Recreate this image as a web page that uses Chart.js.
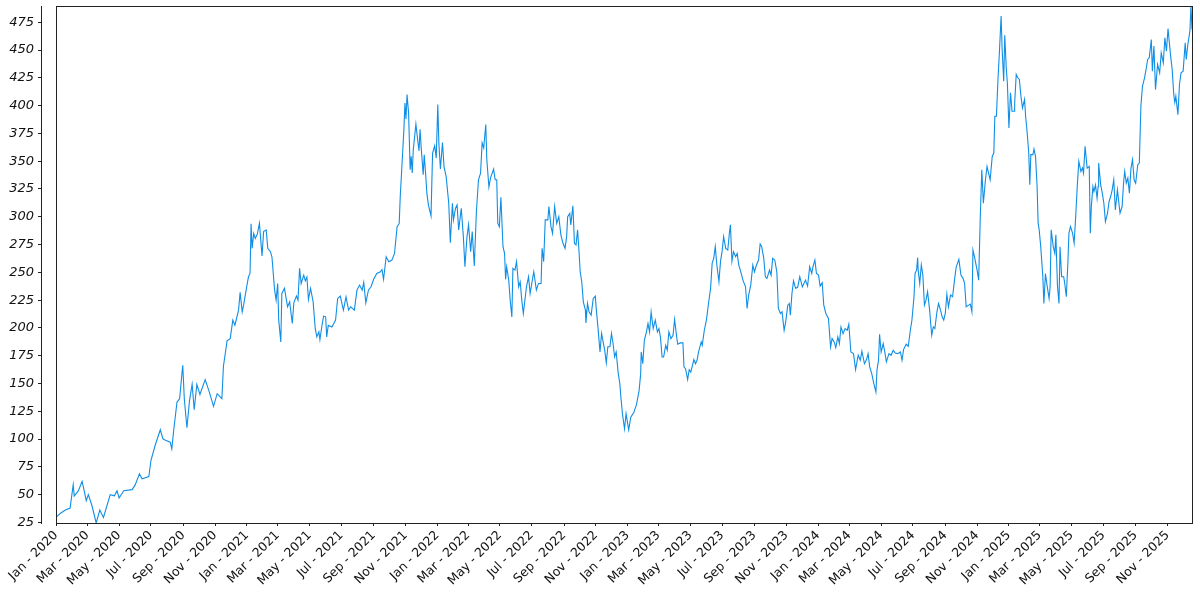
<!DOCTYPE html>
<html>
<head>
<meta charset="utf-8">
<script src="https://cdn.jsdelivr.net/npm/chart.js@4.4.1/dist/chart.umd.min.js"></script>
<style>
  html, body { margin: 0; padding: 0; background: #fff; }
  canvas { display: block; }
</style>
</head>
<body>
<canvas id="grafico" width="1200" height="600"></canvas>
<script>
const d = document;

// ==================== DATA ======================
// x = days since startDate, y = value
const startDate = [2020, 0, 1];

const days = [
  0, 8, 18, 27, 33, 35, 43, 50, 54, 58, 62, 69, 77, 84, 91, 104, 112, 117, 121, 130,
  146, 152, 160, 165, 178, 182, 190, 200, 205, 210, 219, 222, 226, 232, 237, 243, 246, 251, 256, 261,
  265, 270, 276, 286, 294, 302, 309, 318, 321, 328, 334,
  339, 343, 350, 353, 357, 360, 366, 369, 372, 374, 376, 379, 382, 386, 390, 395, 398, 403, 406,
  411, 414, 419, 422, 425, 427, 431, 433, 438, 444, 448, 453, 456, 461, 464, 467, 470, 475, 478, 481,
  484, 488, 493, 497, 500, 504, 506, 510, 513, 517, 519, 522, 529, 536, 540, 545, 551, 556, 561, 565,
  572, 577, 582, 587, 590, 594, 599, 604, 609, 615, 622, 625, 628, 633, 638, 644, 649, 654, 658, 660,
  663, 667, 669, 671, 673, 676, 679, 681, 683, 685, 690, 694, 696, 698,
  700, 704, 706, 709, 711, 714, 719, 722, 726, 729, 732, 734, 737, 741, 744, 748, 753, 756, 760, 762,
  766, 769, 772, 777, 781, 784, 788, 791, 795, 798, 802, 806, 810, 814, 817, 820, 824, 826, 830, 833,
  839, 842, 845, 847, 850, 853, 857, 860, 862, 864, 868, 871, 874, 876, 880, 883, 887, 890, 893, 896,
  902, 906, 909, 916, 921, 925, 930, 932, 935, 938, 943, 945, 949, 952, 956, 960, 964, 968, 972, 976,
  979, 981, 985, 987, 991, 994, 997, 1000, 1003, 1005, 1008, 1011, 1015, 1016, 1019, 1022, 1026, 1030, 1034, 1036,
  1039, 1043, 1046, 1049, 1052, 1055, 1058, 1062, 1065, 1068, 1071, 1074, 1078, 1081,
  1083, 1086, 1090, 1093, 1098, 1102, 1108, 1113, 1118, 1121, 1122, 1125, 1128, 1132, 1135, 1138, 1141, 1145, 1149, 1153,
  1156, 1159, 1162, 1165, 1169, 1172, 1175, 1179, 1183, 1186, 1190, 1192, 1197, 1202, 1204, 1207, 1211, 1214, 1217, 1223,
  1226, 1229, 1232, 1237, 1239, 1243, 1247, 1251, 1255, 1258, 1261, 1264, 1267, 1271, 1274, 1277, 1280, 1284, 1288, 1291,
  1293, 1296, 1299, 1303, 1306, 1309, 1312, 1317, 1322, 1325, 1328, 1332, 1336, 1339, 1343, 1347, 1350, 1353, 1357, 1360,
  1363, 1368, 1371, 1374, 1378, 1382, 1385, 1389, 1392, 1396, 1399, 1403, 1406, 1408, 1411, 1414, 1418, 1422, 1426,
  1431, 1437, 1441, 1445, 1449, 1451, 1455, 1458, 1462, 1465, 1469, 1472, 1476, 1481, 1485, 1488, 1492, 1495, 1499, 1502,
  1505, 1509, 1513, 1517, 1520, 1524, 1529, 1533, 1538, 1542, 1545, 1550, 1554, 1557, 1560, 1564, 1568, 1572, 1574, 1577,
  1579, 1582, 1586, 1589, 1592, 1597, 1601, 1605, 1609, 1614, 1619, 1622, 1625, 1630, 1634, 1638, 1641, 1645, 1647, 1650,
  1652, 1653, 1656, 1659, 1662, 1665, 1668, 1671, 1675, 1677, 1679, 1682, 1685, 1689, 1692, 1695, 1699, 1702, 1705, 1708,
  1711, 1715, 1719, 1723, 1726, 1731, 1735, 1739, 1742, 1745, 1750, 1753, 1756, 1758, 1761, 1766, 1769, 1772, 1775, 1778,
  1782, 1785, 1788, 1791,
  1795, 1798, 1800, 1803, 1806, 1809, 1812, 1814, 1817, 1819, 1822, 1824, 1827, 1830, 1833, 1837, 1838, 1841, 1844, 1847,
  1850, 1853, 1857, 1859, 1862, 1865, 1867, 1869, 1873, 1875, 1878, 1881, 1883, 1885, 1888, 1892, 1894, 1897, 1900, 1904,
  1906, 1908, 1912, 1915, 1917, 1920, 1923, 1925, 1928, 1932, 1934, 1937, 1940, 1942, 1945, 1949, 1952, 1955, 1958, 1961,
  1965, 1968, 1970, 1973, 1977, 1981, 1983, 1985, 1988, 1990, 1993, 1996, 1998, 1999, 2003, 2006, 2009, 2012, 2016, 2019,
  2022, 2025, 2028, 2031, 2035, 2040, 2044, 2047, 2049, 2052, 2055, 2058, 2061, 2064, 2067, 2070, 2074, 2077, 2080, 2083,
  2087, 2090, 2093, 2096, 2100, 2102, 2105, 2108, 2112, 2116, 2119, 2123, 2126, 2129, 2132, 2134, 2137, 2140, 2143, 2145,
  2147, 2151, 2154, 2157, 2161, 2165, 2167, 2170, 2174, 2176, 2178
];

const values = [
  29.5, 33.1, 36.2, 38, 59, 48.8, 53.6, 62, 53.6, 44.6, 50, 40, 24.5, 36.2, 29.5, 50, 49, 53.6, 47, 53.6,
  54.5, 59, 68.7, 64.2, 66.2, 80.7, 94.2, 108.4, 100.2, 99, 97.2, 91.2, 109.3, 133.3, 136.3, 166.4, 136.3, 110.2, 134.8, 149.2,
  126.4, 149.2, 140.2, 153.5, 142.3, 129.4, 140.8, 136.3, 165.5, 188.3, 190.4,
  207, 202.4, 216, 232, 214.4, 221.4, 238, 246, 249, 293.6, 271.6, 285, 280.5, 284.4, 294.2, 264.7, 286.6, 288.2, 271.6,
  268.6, 264, 234.7, 225, 240, 207, 187.4, 231, 235.6, 219, 223.4, 204, 222.6, 228.6, 225, 253.6, 240, 247.5, 242.4, 245.8,
  225.6, 235.6, 223.4, 199.5, 191.9, 196.4, 189.5, 202.4, 210.6, 210, 191.9, 202.4, 200.9, 207, 226.5, 228.6, 216, 228, 216, 219,
  216, 234, 238.5, 234, 241, 222.6, 234, 237, 243.7, 249, 250.5, 252.5, 243.7, 264, 259.5, 261, 267, 291.1, 294, 318.2,
  343.8, 378.4, 402.4, 388, 410, 393.4, 342.3, 354.3, 339.3, 360.3, 383.3, 366.8, 359.3, 378.8,
  363.3, 337.8, 355.8, 336.3, 321.2, 310.7, 300.8, 357.3, 363.9, 352.8, 400.9, 366.8, 342.9, 366.8, 344.7, 336.3, 312.2, 276.7, 312.2, 297.2,
  307.7, 310.7, 288.2, 307.7, 282.1, 255, 282.1, 292.7, 268.6, 286.6, 255.7, 304.7, 333.3, 339.3, 366.4, 361.9, 382.9, 351.3, 326.7, 334.8,
  342.9, 333.3, 333.3, 294.2, 291.1, 317.6, 273.1, 267.1, 243.7, 255, 243.1, 223.5, 209.9, 253.5, 252, 259.6, 237, 241.5, 225, 213,
  237, 246, 231, 250.5, 234, 240, 240, 271.6, 259.6, 297.2, 297.2, 309.2, 291.1, 285.1, 309.2, 294, 300, 283.6, 276.1, 271.6,
  282.1, 300, 303, 292.7, 309.8, 276.1, 274.6, 288.2, 267.1, 250.5, 241.5, 223.5, 216, 204.5, 222, 214.5, 211.5, 226.5, 228.6, 216,
  200.9, 178.4, 195, 187.4, 180, 168.4, 183, 183, 195, 186, 173.9, 178.4, 158.9, 149.9,
  137.8, 122.8, 109.3, 122.8, 108.4, 119.7, 124.2, 131.2, 143.8, 158.9, 178.4, 167.8, 188.9, 196.4, 204, 196.4, 214.4, 199.4, 207, 196.4,
  199.4, 191.3, 173.9, 173.9, 184.4, 179.9, 196.4, 190.4, 193.4, 207.6, 191.9, 185.3, 186.5, 186.5, 164.8, 163.3, 153.5, 162.4, 160.3, 171.5,
  167.8, 170.9, 178.4, 187.4, 184.4, 197.9, 207, 222, 235.6, 258.1, 262.6, 273.1, 256.6, 241.5, 259.6, 268.6, 282.1, 271.6, 270.1, 285.2,
  292.7, 260, 268.6, 264.1, 267.1, 256.6, 252, 243, 237, 217.5, 229.6, 238.5, 256.6, 250.5, 256.6, 261.1, 275.5, 273.1, 262.6, 246,
  244.5, 252, 247.5, 262.6, 261.1, 250.5, 217.5, 213, 214.5, 197.9, 205.5, 220.5, 222, 211.5, 231, 242.4, 235.6, 236.5, 246,
  237, 243, 237.6, 255, 249, 254.4, 261.1, 249, 247.5, 237.6, 240.6, 220.5, 213, 208.5, 182.9, 190.4, 187.4, 182.3, 191.9, 185.9,
  200.9, 194.9, 199.4, 197.9, 203.3, 178.4, 176.9, 162.5, 175.4, 170.9, 179, 167.8, 171.5, 176.9, 165, 158.9, 149.9, 142.3, 162, 170.9,
  194.3, 178.4, 185.9, 178.4, 169.4, 176.9, 175.4, 179.9, 177.5, 176.9, 178.4, 170.9, 180.5, 185.3, 183.5, 197.9, 206.9, 228, 249, 252,
  263.2, 252, 240, 256.6, 247.5, 220.5, 225, 232.5, 216, 204, 193.4, 200.9, 199.4, 214.5, 222, 217.5, 210, 207, 213, 230.4,
  219, 229.5, 228, 244.6, 255, 261.7, 247.5, 244.6, 240, 219, 220.5, 221.4, 214.5, 270.1, 264, 252, 243, 298.7, 342.3, 312.2,
  333.3, 345.3, 339.3, 333.3,
  354.3, 357.3, 390.4, 390.4, 423.5, 450.5, 480.6, 450.5, 422, 463.2, 432.5, 420.5, 379.9, 411.5, 394.9, 394.9, 402.4, 428, 425, 423.5,
  408.5, 397.9, 405.5, 390.4, 375.4, 357.3, 328.7, 355.9, 355.9, 360.9, 354.3, 327.2, 294.2, 288.2, 273.1, 246, 222, 249, 238.5, 226.5,
  237, 288.2, 273.1, 267.1, 283.7, 238.5, 222, 273.1, 246, 246, 240, 228, 258.1, 285.2, 291.2, 285.2, 276.2, 300.2, 327.2, 349.8,
  340.8, 343.8, 339.3, 363.3, 343.8, 345.3, 285.2, 309.2, 327.2, 322.7, 328.7, 316.7, 327.2, 348.3, 328.7, 321.2, 312.2, 295.6, 303.2, 313.7,
  318.2, 324.2, 333.3, 306.2, 324.2, 303.2, 309.2, 331.7, 340.8, 330.2, 334.8, 321.2, 343.8, 351.3, 333.3, 330.2, 346.8, 348.3, 399.4, 417.4,
  425, 432.5, 441.5, 443, 459.5, 431, 453.5, 414.4, 437, 429.5, 447.5, 438.5, 461, 449, 469.2, 459.5, 444.5, 432.5, 410, 403,
  408.5, 391.9, 419, 429.5, 431, 456.6, 441.5, 455, 467, 489.6, 468.5
];

// x tick labels: every two months
const tickMonths = ['Jan', 'Mar', 'May', 'Jul', 'Sep', 'Nov'];
const tickMonthIdx = [0, 2, 4, 6, 8, 10];
const tickYears = [2020, 2021, 2022, 2023, 2024, 2025];

const yTicks = [25, 50, 75, 100, 125, 150, 175, 200, 225, 250, 275, 300, 325, 350, 375, 400, 425, 450, 475];

// ==================== HELPERS ======================
const t0 = Date.UTC(startDate[0], startDate[1], startDate[2]);
const dayOf = (y, m) => Math.round((Date.UTC(y, m, 1) - t0) / 86400000);

let xTicks = [];
let xLabels = {};
tickYears.forEach(year => {
    tickMonths.forEach((mon, i) => {
        const dd = dayOf(year, tickMonthIdx[i]);
        if (dd <= days[days.length - 1]) {
            xTicks.push(dd);
            xLabels[dd] = mon + ' - ' + year;
        }
    });
});

const puntos = days.map((dd, i) => ({ x: dd, y: values[i] }));

// draws the box round the plot area
const marco = {
    id: 'marco',
    afterDatasetsDraw(chart) {
        const { ctx, chartArea: a } = chart;
        ctx.save();
        ctx.strokeStyle = '#222';
        ctx.lineWidth = 1;
        ctx.strokeRect(Math.round(a.left) + 0.5, Math.round(a.top) + 0.5,
            Math.round(a.right - a.left), Math.round(a.bottom - a.top));
        ctx.restore();
    }
};

const $ctx = d.getElementById('grafico');

const chart = new Chart($ctx, {
    type: 'line',
    data: {
        datasets: [
            {
                data: puntos,
                borderColor: 'rgb(16,142,229)',
                borderWidth: 1.1,
                pointRadius: 0,
                tension: 0,
                fill: false
            }
        ]
    },
    options: {
        responsive: false,
        animation: false,
        layout: { padding: { top: 6, right: 8, left: 0, bottom: 0 } },
        plugins: {
            legend: { display: false },
            tooltip: { enabled: false }
        },
        scales: {
            x: {
                type: 'linear',
                min: days[0],
                max: days[days.length - 1],
                afterBuildTicks: s => { s.ticks = xTicks.map(v => ({ value: v })); },
                afterFit: s => { s.height = 77; },
                grid: { drawOnChartArea: false, drawTicks: true, tickLength: 3, color: '#222' },
                border: { display: true, color: '#222' },
                ticks: {
                    autoSkip: false,
                    maxRotation: 45,
                    minRotation: 45,
                    padding: 2,
                    color: '#111',
                    font: { family: 'DejaVu Sans', size: 12.5 },
                    callback: v => xLabels[v] || ''
                }
            },
            y: {
                type: 'linear',
                position: 'left',
                weight: 1,
                min: Math.min(...values),
                max: Math.max(...values),
                afterBuildTicks: s => { s.ticks = yTicks.map(v => ({ value: v })); },
                afterFit: s => {
                    s.width = 41;
                    s.paddingTop = 0;
                    s.paddingBottom = 0;
                },
                grid: { drawOnChartArea: false, drawTicks: true, tickLength: 3, color: '#222' },
                border: { display: true, color: '#222' },
                ticks: {
                    padding: 4,
                    color: '#111',
                    font: { family: 'DejaVu Sans', size: 13, style: 'italic' },
                    callback: v => v
                }
            },
            yPad: {
                type: 'linear',
                position: 'left',
                weight: 0,
                display: true,
                afterFit: s => { s.width = 15; },
                grid: { display: false, drawTicks: false },
                border: { display: false },
                ticks: { display: false }
            }
        }
    },
    plugins: [marco]
});
</script>
</body>
</html>
